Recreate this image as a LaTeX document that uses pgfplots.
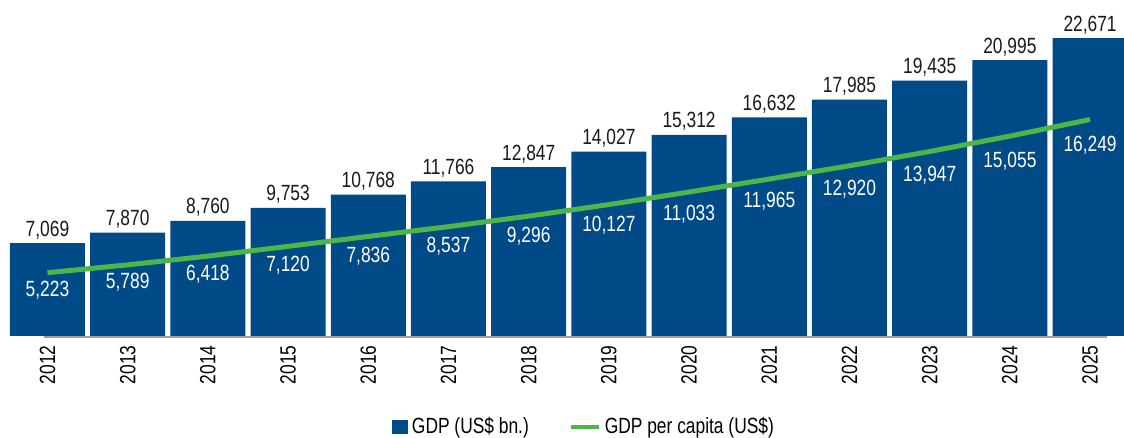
\documentclass[border=0pt]{standalone}
\usepackage{fontspec}
\setmainfont{Liberation Sans}[FakeStretch=0.79]
\usepackage{pgfplots}
\usepackage{pgfplotstable}
\pgfplotsset{compat=1.18}
\definecolor{gdpblue}{RGB}{0,74,135}
\definecolor{capgreen}{RGB}{77,182,72}

\pgfplotstableread{
x year gdp gdplab cap caplab
0 2012 7069 7,069 5223 5,223
1 2013 7870 7,870 5789 5,789
2 2014 8760 8,760 6418 6,418
3 2015 9753 9,753 7120 7,120
4 2016 10768 10,768 7836 7,836
5 2017 11766 11,766 8537 8,537
6 2018 12847 12,847 9296 9,296
7 2019 14027 14,027 10127 10,127
8 2020 15312 15,312 11033 11,033
9 2021 16632 16,632 11965 11,965
10 2022 17985 17,985 12920 12,920
11 2023 19435 19,435 13947 13,947
12 2024 20995 20,995 15055 15,055
13 2025 22671 22,671 16249 16,249
}\gdptab

\begin{document}
\begin{tikzpicture}[font=\fontsize{11}{13}\selectfont]
% bars + labels
\begin{axis}[at={(0,0)},anchor=south west,scale only axis,
  width=562pt,height=168pt,
  xmin=-0.592,xmax=13.423,ymin=0,ymax=25571,
  axis x line*=bottom,axis y line=none,
  x axis line style={draw=none},
  xtick=data,xticklabels from table={\gdptab}{year},
  xtick style={draw=none},
  xticklabel style={rotate=90,anchor=east,inner sep=0pt},
  xticklabel shift=4.5pt,
  clip=false]
\draw[gray!75,line width=1pt] ([yshift=-0.6pt]axis cs:-0.044,0) -- ([yshift=-0.6pt]axis cs:13.21,0);
\addplot[ybar,bar width=37.5pt,bar shift=0pt,fill=gdpblue,draw=none,
  nodes near coords,point meta=explicit symbolic,
  every node near coord/.style={anchor=base,yshift=3.5pt,inner sep=0pt,text=black!90}]
  table[x=x,y=gdp,meta=gdplab]{\gdptab};
\addplot[draw=none,mark=none,
  nodes near coords,point meta=explicit symbolic,
  every node near coord/.style={anchor=base,yshift=-14.5pt,inner sep=0pt,text=white}]
  table[x=x,y=cap,meta=caplab]{\gdptab};
\end{axis}
% per capita line (own scale)
\begin{axis}[at={(0,0)},anchor=south west,scale only axis,
  width=562pt,height=168pt,
  xmin=-0.592,xmax=13.423,ymin=669,ymax=24851,
  hide axis,clip=false,
  legend style={at={(0.5205,-0.2708)},anchor=center,draw=none,fill=none,
    legend columns=2,font=\fontsize{11}{13}\selectfont,
    /tikz/every even column/.append style={column sep=18pt}},
  legend cell align=left]
\addlegendimage{legend image code/.code={\fill[gdpblue] (0pt,-3.25pt) rectangle (7.5pt,3.25pt);}}
\addlegendentry{GDP (US\$ bn.)}
\addplot[capgreen,line width=2.5pt,mark=none,
  legend image code/.code={\draw[capgreen,line width=2pt] (0pt,0pt) -- (14pt,0pt);}]
  table[x=x,y=cap]{\gdptab};
\addlegendentry{GDP per capita (US\$)}
\end{axis}
\pgfresetboundingbox
\path[use as bounding box] (0,-51pt) rectangle (562pt,168pt);
\end{tikzpicture}
\end{document}
